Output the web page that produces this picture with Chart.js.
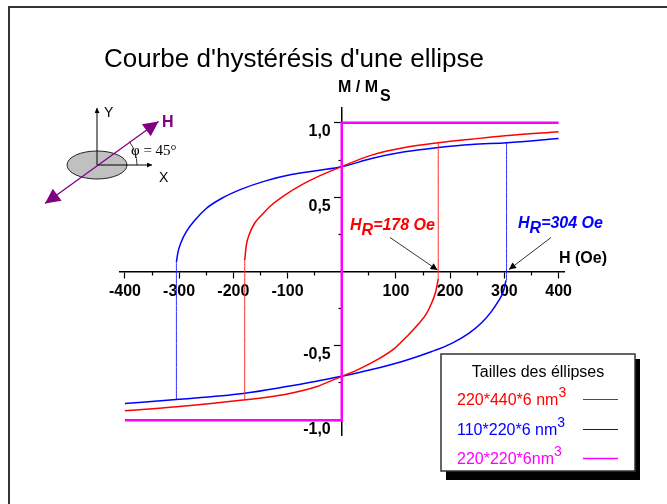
<!DOCTYPE html>
<html>
<head>
<meta charset="utf-8">
<script src="https://cdn.jsdelivr.net/npm/chart.js@4.4.0/dist/chart.umd.min.js"></script>
<style>
  html, body { margin: 0; padding: 0; background: #fff; }
  #wrap { position: relative; width: 667px; height: 504px; overflow: hidden; }
  #wrap canvas, #wrap svg { position: absolute; left: 0; top: 0; }
  svg { pointer-events: none; font-family: "Liberation Sans", Arial, sans-serif; }
</style>
</head>
<body>
<div id="wrap">
  <canvas id="hyst" width="667" height="504"></canvas>
  <svg width="667" height="504" viewBox="0 0 667 504">
    <defs>
      <marker id="tip" viewBox="0 0 10 10" refX="10" refY="5" markerWidth="9" markerHeight="7" orient="auto" markerUnits="userSpaceOnUse">
        <path d="M0,0 L10,5 L0,10 z" fill="#000"/>
      </marker>
      <marker id="tipSmall" viewBox="0 0 10 10" refX="10" refY="5" markerWidth="6" markerHeight="5" orient="auto" markerUnits="userSpaceOnUse">
        <path d="M0,0 L10,5 L0,10 z" fill="#000"/>
      </marker>
      <marker id="tipH" viewBox="0 0 10 10" refX="10" refY="5" markerWidth="22" markerHeight="15" orient="auto-start-reverse" markerUnits="userSpaceOnUse">
        <path d="M0,0 L10,5 L0,10 z" fill="#800080"/>
      </marker>
    </defs>

    <!-- cadre -->
    <rect x="9" y="7" width="700" height="600" fill="none" stroke="#333" stroke-width="2"/>

    <text x="104" y="67" font-size="26">Courbe d'hystérésis d'une ellipse</text>

    <!-- schéma de l'ellipse -->
    <ellipse cx="97" cy="165" rx="30" ry="14" fill="#c0c0c0" stroke="#222" stroke-width="1"/>
    <line x1="97" y1="165" x2="97" y2="108" stroke="#000" stroke-width="1" marker-end="url(#tipSmall)"/>
    <line x1="97" y1="165" x2="152" y2="165" stroke="#000" stroke-width="1" marker-end="url(#tipSmall)"/>
    <text x="104" y="117" font-size="14">Y</text>
    <text x="159" y="182" font-size="14">X</text>
    <path d="M137,165 A40,40 0 0 0 129.4,141.6" fill="none" stroke="#000" stroke-width="0.8"/>
    <line x1="45" y1="203.5" x2="158.5" y2="121.5" stroke="#800080" stroke-width="1.3" marker-start="url(#tipH)" marker-end="url(#tipH)"/>
    <text x="162" y="127" font-size="16" font-weight="bold" fill="#800080">H</text>
    <text x="131" y="155" font-size="15" font-family="Liberation Serif, Times New Roman, serif">φ = 45°</text>

    <!-- axes -->
    <text x="338" y="92" font-size="16" font-weight="bold">M / M<tspan x="380" y="100.5">S</tspan></text>
    <text x="559" y="263" font-size="16" font-weight="bold">H (Oe)</text>

    <text x="350" y="230" font-size="16" font-weight="bold" font-style="italic" fill="#f00">H<tspan dy="5">R</tspan><tspan dy="-5">=178 Oe</tspan></text>
    <line x1="390" y1="237.5" x2="437.5" y2="270" stroke="#000" stroke-width="0.8" marker-end="url(#tip)"/>
    <text x="518" y="228" font-size="16" font-weight="bold" font-style="italic" fill="#00f">H<tspan dy="5">R</tspan><tspan dy="-5">=304 Oe</tspan></text>
    <line x1="551" y1="237.5" x2="509" y2="269.5" stroke="#000" stroke-width="0.8" marker-end="url(#tip)"/>

    <!-- légende -->
    <rect x="446" y="359" width="194" height="121" fill="#000"/>
    <rect x="441" y="354" width="194" height="117" fill="#fff" stroke="#333" stroke-width="1.5"/>
    <text x="538" y="377" font-size="16" text-anchor="middle">Tailles des éllipses</text>
    <text x="457" y="405" font-size="16" fill="#f00">220*440*6 nm<tspan font-size="14" dy="-8">3</tspan></text>
    <line x1="583" y1="399.5" x2="618" y2="399.5" stroke="#f00" stroke-width="1"/>
    <text x="457" y="435" font-size="16" fill="#00f">110*220*6 nm<tspan font-size="14" dy="-8">3</tspan></text>
    <line x1="583" y1="429.5" x2="618" y2="429.5" stroke="#00f" stroke-width="1"/>
    <text x="457" y="464" font-size="16" fill="#f0f">220*220*6nm<tspan font-size="14" dy="-8">3</tspan></text>
    <line x1="583" y1="458.5" x2="618" y2="458.5" stroke="#f0f" stroke-width="1.5"/>
  </svg>
</div>
<script>
// H en Oe, M/Ms sans dimension
// 220*440*6 nm3 : branche haute (H décroissant) et branche basse (H croissant)
var redUpperH = [400, 301, 239, 178, 116, 55, 0, -38, -75, -105, -130, -148, -161, -170, -176, -179]
var redUpperM = [0.94, 0.913, 0.89, 0.866, 0.834, 0.783, 0.706, 0.648, 0.581, 0.514, 0.446, 0.379, 0.323, 0.256, 0.177, 0.076]
var redLowerH = [-400, -305, -182, -105, -44, -17, 0, 30, 67, 98, 122, 141, 156, 166, 173, 178]
var redLowerM = [-0.937, -0.91, -0.865, -0.827, -0.772, -0.731, -0.706, -0.66, -0.59, -0.515, -0.43, -0.355, -0.285, -0.21, -0.14, -0.05]
var redJumpH = [-179, -179, 178, 178]
var redJumpM = [0.076, -0.865, -0.05, 0.866]

// 110*220*6 nm3
var blueUpperH = [400, 305, 239, 178, 116, 55, 0, -44, -93, -142, -185, -222, -250, -271, -287, -296, -302, -305]
var blueUpperM = [0.895, 0.866, 0.855, 0.834, 0.805, 0.76, 0.705, 0.68, 0.652, 0.608, 0.554, 0.491, 0.424, 0.345, 0.267, 0.2, 0.132, 0.065]
var blueLowerH = [-400, -305, -182, -105, -44, 0, 55, 116, 165, 202, 233, 258, 276, 288, 298, 303]
var blueLowerM = [-0.888, -0.861, -0.82, -0.776, -0.736, -0.705, -0.66, -0.6, -0.54, -0.485, -0.42, -0.345, -0.27, -0.205, -0.135, -0.06]
var blueJumpH = [-305, -305, 304, 304]
var blueJumpM = [0.065, -0.861, -0.06, 0.866]

// 220*220*6 nm3 : cycle carré
var pinkH = [400, 0, 0, -400]
var pinkM = [1, 1, -1, -1]

var xTicks = [-400, -300, -200, -100, 100, 200, 300, 400]
var xMinor = [-350, -250, -150, -50, 50, 150, 250, 350]
var yTicks = [-1, -0.5, 0.5, 1]
var yMinor = [-0.75, -0.25, 0.25, 0.75]

function points(h, m) {
	var p = []
	for (var i = 0; i < h.length; i++) {
		p.push({x: h[i], y: m[i]})
	}
	return p
}

// segments verticaux séparés par un trou
function jumps(h, m) {
	var p = []
	for (var i = 0; i < h.length; i += 2) {
		if (i > 0) p.push({x: h[i], y: null})
		p.push({x: h[i], y: m[i]})
		p.push({x: h[i + 1], y: m[i + 1]})
	}
	return p
}

function curve(label, data, color, width) {
	return {
		label: label,
		data: data,
		borderColor: color,
		backgroundColor: color,
		borderWidth: width,
		pointRadius: 0,
		fill: false,
		cubicInterpolationMode: 'monotone',
		spanGaps: false
	}
}

function fixedTicks(values) {
	return function(scale) {
		scale.ticks = values.map(function(v) { return {value: v} })
	}
}

var tickFont = {family: '"Liberation Sans", Arial, sans-serif', size: 16, weight: 'bold'}

var ctx = document.getElementById('hyst').getContext('2d')
var chart = new Chart(ctx, {
	type: 'line',
	data: {
		datasets: [
			curve('220*220*6nm3', points(pinkH, pinkM), '#ff00ff', 2.5),
			curve('220*440*6 nm3', points(redUpperH, redUpperM), '#ff0000', 1.5),
			curve('220*440*6 nm3', points(redLowerH, redLowerM), '#ff0000', 1.5),
			curve('220*440*6 nm3', jumps(redJumpH, redJumpM), '#ff3030', 1),
			curve('110*220*6 nm3', points(blueUpperH, blueUpperM), '#0000ff', 1.5),
			curve('110*220*6 nm3', points(blueLowerH, blueLowerM), '#0000ff', 1.5),
			curve('110*220*6 nm3', jumps(blueJumpH, blueJumpM), '#3030ff', 1)
		]
	},
	options: {
		responsive: false,
		animation: false,
		events: [],
		layout: {padding: {left: 119.5, right: 103, top: 108, bottom: 69}},
		plugins: {
			legend: {display: false},
			title: {display: false},
			tooltip: {enabled: false}
		},
		scales: {
			x: {
				type: 'linear', position: 'center', min: -410, max: 410,
				afterBuildTicks: fixedTicks(xTicks),
				border: {color: '#000', width: 1.5},
				grid: {drawOnChartArea: false, color: '#000', tickLength: 6, tickWidth: 1.2},
				ticks: {color: '#000', font: tickFont, padding: 4, maxRotation: 0, autoSkip: false}
			},
			xm: {
				type: 'linear', axis: 'x', position: 'center', min: -410, max: 410,
				afterBuildTicks: fixedTicks(xMinor),
				border: {display: false},
				grid: {drawOnChartArea: false, color: '#000', tickLength: 3.5, tickWidth: 1.2},
				ticks: {display: false}
			},
			y: {
				type: 'linear', position: 'center', min: -1.1, max: 1.1,
				afterBuildTicks: fixedTicks(yTicks),
				border: {color: '#000', width: 1.5},
				grid: {drawOnChartArea: false, color: '#000', tickLength: 7, tickWidth: 1.2},
				ticks: {
					color: '#000', font: tickFont, padding: 4, labelOffset: 9, autoSkip: false,
					callback: function(v) { return v.toFixed(1).replace('.', ',') }
				}
			},
			ym: {
				type: 'linear', axis: 'y', position: 'center', min: -1.1, max: 1.1,
				afterBuildTicks: fixedTicks(yMinor),
				border: {display: false},
				grid: {drawOnChartArea: false, color: '#000', tickLength: 3.5, tickWidth: 1.2},
				ticks: {display: false}
			}
		}
	}
})
</script>
</body>
</html>
